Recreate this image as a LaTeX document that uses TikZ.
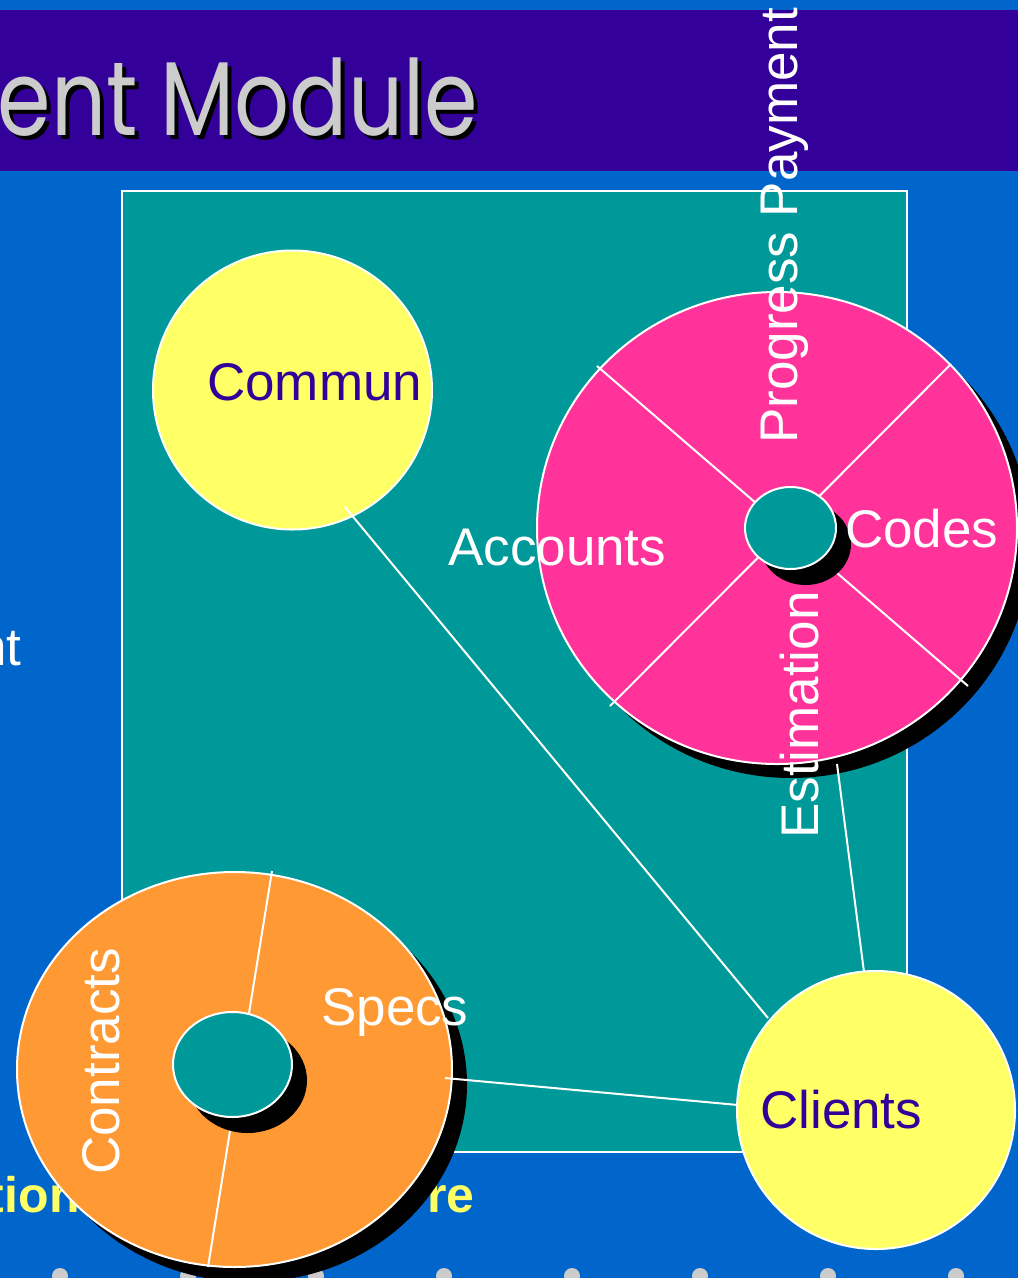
\documentclass[tikz,border=0pt]{standalone}
\usepackage{fontspec}
\setmainfont{Liberation Sans}
\newfontfamily\titlefont{Poppins}
\usetikzlibrary{calc}
\definecolor{bgblue}{HTML}{0066CC}
\definecolor{bandpurple}{HTML}{330099}
\definecolor{tealbox}{HTML}{009999}
\definecolor{pinkc}{HTML}{FF3399}
\definecolor{orangec}{HTML}{FF9933}
\definecolor{yellowc}{HTML}{FFFF66}
\definecolor{titlegrey}{HTML}{CCCCCC}
\definecolor{labelpurple}{HTML}{330099}
\newcommand\lblfont{\fontsize{53}{60}\selectfont}
\tikzset{
  outline/.style={draw=white, line width=2pt},
  link/.style={draw=white, line width=2pt},
  spoke/.style={draw=white, line width=2pt},
  lbl/.style={inner sep=0pt, font=\lblfont, text=white},
  darklbl/.style={inner sep=0pt, font=\lblfont, text=labelpurple},
  titletext/.style={inner sep=0pt, font=\titlefont\fontsize{105}{110}\selectfont, xscale=0.82},
  foot/.style={inner sep=0pt, font=\bfseries\fontsize{50}{55}\selectfont, text=yellowc},
}
\begin{document}
\begin{tikzpicture}[x=1pt,y=-1pt]
\useasboundingbox (0,0) rectangle (1018,1278);
\clip (0,0) rectangle (1018,1278);
% background
\fill[bgblue] (0,0) rectangle (1018,1278);
\fill[bandpurple] (0,10) rectangle (1018,171);
% title
\node[titletext, anchor=base east, text=black] (titleshadow) at (482,139) {ment Module};
\node[titletext, anchor=base east, text=titlegrey] (title) at (478,135) {ment Module};
% side text fragments
\node[lbl, anchor=base west] (leftfrag) at (-23,665) {nt};
\node[foot, anchor=base west] (footleft) at (-40,1212) {ation};
\node[foot, anchor=base west] (footright) at (427,1212) {re};
% dots
\foreach \x in {60,188,316,444,572,700,828,956}
  \fill[titlegrey] (\x,1276) circle[radius=8pt];
% teal panel
\draw[outline, fill=tealbox] (122,191) rectangle (907,1152);
% Commun circle
\coordinate (cC) at (292.5,390);
\draw[outline, fill=yellowc] (cC) circle[radius=139.5pt];
% pink wheel
\coordinate (pC) at (777,528);
\coordinate (pI) at (790.5,528);
\fill[black] ($(pC)+(14,14)$) ellipse[x radius=240pt, y radius=236pt];
\draw[outline, fill=pinkc] (pC) ellipse[x radius=240pt, y radius=236pt];
\coordinate (sa1) at (597,366); \coordinate (sa2) at (968,686);
\coordinate (sb1) at (951,364); \coordinate (sb2) at (610,706);
\draw[spoke] (sa1) -- (sa2);
\draw[spoke] (sb1) -- (sb2);
\fill[black] ($(pI)+(15,16)$) ellipse[x radius=45.5pt, y radius=41pt];
\draw[outline, fill=tealbox] (pI) ellipse[x radius=45.5pt, y radius=41pt];
% orange wheel
\coordinate (oC) at (234.5,1069.5);
\coordinate (oI) at (232.5,1064.5);
\fill[black] ($(oC)+(15,15)$) ellipse[x radius=217.5pt, y radius=197.5pt];
\draw[outline, fill=orangec] (oC) ellipse[x radius=217.5pt, y radius=197.5pt];
\coordinate (od1) at (272,871); \coordinate (od2) at (208,1267);
\draw[spoke] (od1) -- (od2);
\fill[black] ($(oI)+(15,16)$) ellipse[x radius=59.5pt, y radius=52.5pt];
\draw[outline, fill=tealbox] (oI) ellipse[x radius=59.5pt, y radius=52.5pt];
% connectors
\coordinate (commOut) at (345,507); \coordinate (cliA) at (768,1018);
\coordinate (pinkOut) at (837,764); \coordinate (cliB) at (864,972);
\coordinate (orOut) at (445,1078); \coordinate (cliC) at (738,1105);
\draw[link] (commOut) -- (cliA);
\draw[link] (pinkOut) -- (cliB);
\draw[link] (orOut) -- (cliC);
% Clients circle
\coordinate (clC) at (876,1110);
\draw[outline, fill=yellowc] (clC) circle[radius=139pt];
% labels
\node[darklbl, anchor=base west] (commun) at (207,400) {Commun};
\node[darklbl, anchor=base west] (clients) at (760,1128) {Clients};
\node[lbl, anchor=base west] (accounts) at (448,565) {Accounts};
\node[lbl, anchor=base west] (codes) at (845,547) {Codes};
\node[lbl, anchor=base west] (specs) at (321,1025) {Specs};
\node[lbl, anchor=base west, rotate=90] (progress) at (797,444) {Progress Payment};
\node[lbl, anchor=base west, rotate=90] (estimation) at (818,839) {Estimation};
\node[lbl, anchor=base west, rotate=90] (contracts) at (119,1175) {Contracts};
\end{tikzpicture}
\end{document}
